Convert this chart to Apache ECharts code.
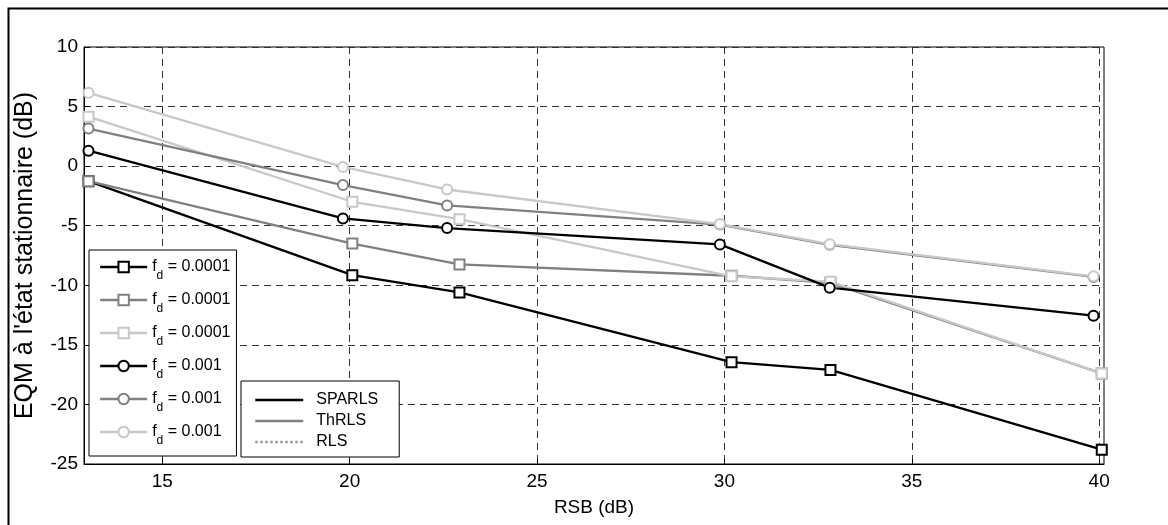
<!DOCTYPE html>
<html>
<head>
<meta charset="utf-8">
<script src="https://cdn.jsdelivr.net/npm/echarts@6/dist/echarts.min.js"></script>
<style>html,body{margin:0;padding:0;background:#fff}#c{width:1168px;height:525px}</style>
</head>
<body>
<div id="c"></div>
<script>
// x positions (RSB, dB)
const rsbSquares = [13.03, 20.07, 22.93, 30.19, 32.83, 40.07];
const rsbCircles = [13.03, 19.82, 22.60, 29.88, 32.81, 39.85];
// EQM (dB), f_d = 0.0001 (squares)
const sparlsSq = [-1.26, -9.15, -10.6, -16.45, -17.1, -23.8];
const thrlsSq  = [-1.26, -6.5, -8.25, -9.2, -9.8, -17.4];
const rlsSq    = [4.15, -2.99, -4.45, -9.25, -9.7, -17.4];
// EQM (dB), f_d = 0.001 (circles)
const sparlsCi = [1.3, -4.39, -5.2, -6.57, -10.2, -12.55];
const thrlsCi  = [3.15, -1.59, -3.3, -4.9, -6.6, -9.3];
const rlsCi    = [6.15, -0.07, -1.96, -4.86, -6.55, -9.25];
const xTicks = [15, 20, 25, 30, 35, 40];
const yTicks = [-25, -20, -15, -10, -5, 0, 5, 10];

const BLACK = '#000000', MID = '#808080', LIGHT = '#c8c8c8';
const pairs = (xs, ys) => xs.map((x, i) => [x, ys[i]]);

function mk(name, xs, ys, color, symbol) {
  return {
    name: name, type: 'line', data: pairs(xs, ys),
    symbol: symbol, symbolSize: 10, showSymbol: true,
    lineStyle: { color: color, width: 2.3 },
    itemStyle: { color: color, borderColor: color, borderWidth: 2 },
    emphasis: { disabled: true }, animation: false
  };
}
function dummy(name, color, type) {
  return {
    name: name, type: 'line', data: [], symbol: 'none',
    lineStyle: { color: color, width: type === 'dotted' ? 2 : 2.5, type: type },
    itemStyle: { color: color }, animation: false
  };
}
const series = [
  mk('s1', rsbSquares, sparlsSq, BLACK, 'emptyRect'),
  mk('s2', rsbSquares, thrlsSq, MID, 'emptyRect'),
  mk('s3', rsbSquares, rlsSq, LIGHT, 'emptyRect'),
  mk('c1', rsbCircles, sparlsCi, BLACK, 'emptyCircle'),
  mk('c2', rsbCircles, thrlsCi, MID, 'emptyCircle'),
  mk('c3', rsbCircles, rlsCi, LIGHT, 'emptyCircle'),
  dummy('SPARLS', BLACK, 'solid'),
  dummy('ThRLS', MID, 'solid'),
  dummy('RLS', '#999999', 'dotted')
];
const fdLabel = { s1: '0.0001', s2: '0.0001', s3: '0.0001', c1: '0.001', c2: '0.001', c3: '0.001' };
const FONT = 'Liberation Sans, Arial, sans-serif';

const chart = echarts.init(document.getElementById('c'), null, { renderer: 'canvas' });
chart.setOption({
  backgroundColor: '#fff',
  animation: false,
  textStyle: { fontFamily: FONT },
  grid: { left: 84, top: 47, right: 64, bottom: 61, show: true, borderColor: '#000', borderWidth: 1, backgroundColor: 'transparent' },
  xAxis: {
    type: 'value', min: 12.91, max: 40.13,
    name: 'RSB (dB)', nameLocation: 'middle', nameGap: 34,
    nameTextStyle: { fontSize: 19, color: '#000', fontFamily: FONT },
    axisLine: { show: true, onZero: false, lineStyle: { color: '#000', width: 1 } },
    axisTick: { show: true, inside: true, length: 5, customValues: xTicks, lineStyle: { color: '#000' } },
    axisLabel: { show: true, customValues: xTicks, fontSize: 19, color: '#000', margin: 8, fontFamily: FONT },
    splitLine: { show: true, lineStyle: { color: '#333', type: [7, 5], width: 1 } }
  },
  yAxis: {
    type: 'value', min: -25, max: 10, interval: 5,
    name: "EQM à l'état stationnaire (dB)", nameLocation: 'middle', nameGap: 46, nameRotate: 90,
    nameTextStyle: { fontSize: 25, color: '#000', fontFamily: FONT },
    axisLine: { show: true, onZero: false, lineStyle: { color: '#000', width: 1 } },
    axisTick: { show: true, inside: true, length: 5, lineStyle: { color: '#000' } },
    axisLabel: { show: true, fontSize: 19, color: '#000', margin: 6, fontFamily: FONT },
    splitLine: { show: true, lineStyle: { color: '#333', type: [7, 5], width: 1 } }
  },
  legend: [
    {
      data: ['s1', 's2', 's3', 'c1', 'c2', 'c3'],
      orient: 'vertical', left: 89, top: 250,
      padding: [9, 6, 9, 10], itemGap: 10,
      itemWidth: 47, itemHeight: 13,
      lineStyle: { width: 2.3 },
      backgroundColor: '#fff', borderColor: '#000', borderWidth: 1, borderRadius: 0,
      selectedMode: false,
      formatter: function (n) { return '{f|f}{d|d}{t| = ' + fdLabel[n] + '}'; },
      textStyle: {
        fontFamily: FONT, color: '#000',
        rich: {
          f: { fontSize: 16, lineHeight: 30, verticalAlign: 'middle', fontFamily: FONT, color: '#000' },
          d: { fontSize: 12, lineHeight: 15, verticalAlign: 'bottom', fontFamily: FONT, color: '#000' },
          t: { fontSize: 16, lineHeight: 30, verticalAlign: 'middle', fontFamily: FONT, color: '#000' }
        }
      }
    },
    {
      data: ['SPARLS', 'ThRLS', 'RLS'],
      orient: 'vertical', left: 241, top: 381,
      padding: [10, 21, 6, 13], itemGap: 3,
      itemWidth: 48, itemHeight: 14,
      itemStyle: { opacity: 0 },
      lineStyle: { width: 2.5 },
      backgroundColor: '#fff', borderColor: '#000', borderWidth: 1, borderRadius: 0,
      selectedMode: false,
      formatter: function (n) { return '{a|' + n + '}'; },
      textStyle: {
        fontFamily: FONT, fontSize: 16, color: '#000', lineHeight: 18,
        rich: { a: { fontFamily: FONT, fontSize: 16, color: '#000', lineHeight: 18, padding: [0, 0, 0, 8] } }
      }
    }
  ],
  graphic: [
    { type: 'rect', left: 6, top: 6, shape: { width: 1200, height: 560 }, style: { fill: 'none', stroke: '#000', lineWidth: 2 }, z: -1, silent: true }
  ],
  series: series
});
</script>
</body>
</html>
